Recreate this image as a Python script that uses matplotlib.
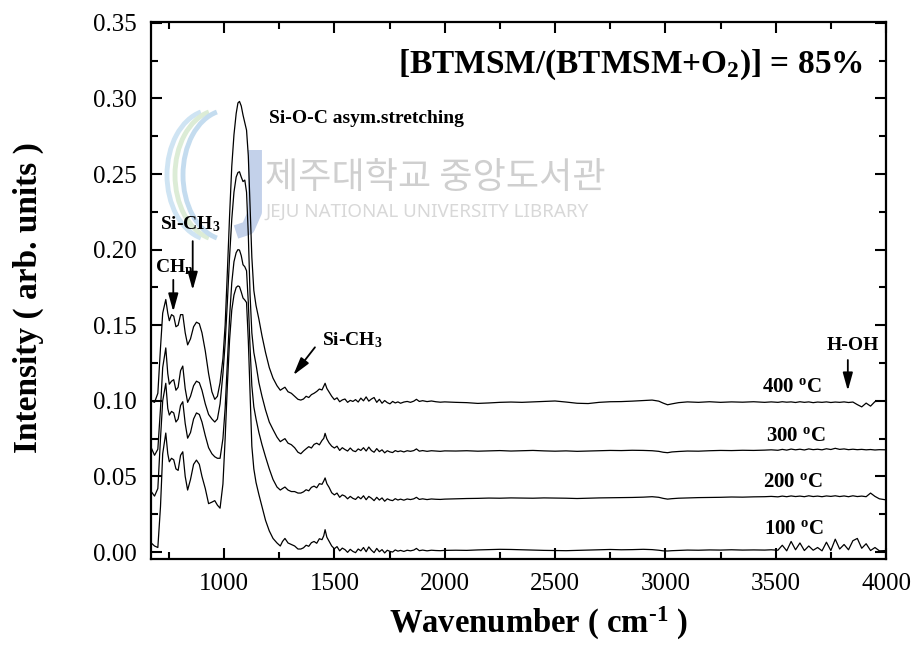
import matplotlib
matplotlib.use('Agg')
import matplotlib.pyplot as plt
from matplotlib.ticker import MultipleLocator, FormatStrFormatter
from matplotlib.patches import Arc

plt.rcParams['font.family'] = ['Liberation Serif', 'DejaVu Serif']
plt.rcParams['mathtext.default'] = 'regular'

# FTIR spectra of films deposited at different temperatures (offset vertically)
wavenumber = [
    670, 685, 700, 712, 722, 736, 745, 752, 762, 772, 782, 792, 803, 813, 824, 835,
    848, 862, 875, 888, 900, 915, 930, 945, 958, 970, 982, 995,
    1005, 1015, 1025, 1035, 1045, 1055, 1063, 1070, 1078, 1086, 1094, 1102, 1110,
    1118, 1126, 1135, 1145, 1158, 1172, 1188, 1205, 1222, 1240, 1255, 1265, 1276,
    1290, 1305, 1320, 1335, 1348,
    1360, 1372, 1384, 1396, 1408, 1420, 1432, 1444, 1452, 1458, 1466, 1476, 1488,
    1500, 1512, 1524, 1536, 1548, 1560, 1572, 1584, 1596, 1608, 1620, 1632, 1644,
    1656, 1668, 1680, 1692, 1704, 1716, 1728, 1740, 1752, 1764, 1776, 1788, 1800,
    1815, 1830, 1845, 1860, 1872, 1885, 1900, 1920, 1940, 1960, 1980, 2000,
    2050, 2100, 2150, 2200, 2250, 2300, 2350, 2400, 2450, 2500, 2550, 2600, 2650,
    2700, 2750, 2800, 2850, 2900, 2940, 2970, 2990, 3010, 3030, 3060, 3100, 3150,
    3200, 3250, 3300, 3350, 3400, 3450, 3480, 3510, 3530, 3550, 3570, 3590, 3610,
    3630, 3650, 3670, 3690, 3710, 3730, 3750, 3770, 3790, 3810, 3830, 3850, 3870,
    3890, 3910, 3930, 3950, 3970, 4000,
]

int_400 = [
    0.100, 0.099, 0.105, 0.135, 0.158, 0.167, 0.158, 0.153, 0.157, 0.156, 0.149, 0.150,
    0.157, 0.157, 0.145, 0.137, 0.141, 0.149, 0.152, 0.151, 0.145, 0.133, 0.118, 0.106,
    0.101, 0.103, 0.112, 0.128,
    0.150, 0.185, 0.222, 0.255, 0.276, 0.290, 0.297, 0.298, 0.295, 0.289, 0.284, 0.279,
    0.262, 0.228, 0.195, 0.173, 0.163, 0.154, 0.143, 0.132, 0.122, 0.115, 0.110, 0.107,
    0.108, 0.109, 0.106, 0.105, 0.103, 0.101, 0.1005,
    0.1012, 0.1030, 0.1022, 0.1041, 0.1050, 0.1062, 0.1078, 0.1072, 0.1098, 0.1116,
    0.1082, 0.1058, 0.1030, 0.1008, 0.1020, 0.0994, 0.1006, 0.1012, 0.0990, 0.1003,
    0.0996, 0.1008, 0.0992, 0.1018, 0.1000, 0.1026, 0.0998, 0.1012, 0.1022, 0.0990,
    0.1010, 0.0984, 0.1002, 0.0988, 0.0980, 0.0996, 0.0986, 0.0993, 0.0984, 0.0992,
    0.0996, 0.0990, 0.0998, 0.1010, 0.0996, 0.1001, 0.0995, 0.0999, 0.0994, 0.0991,
    0.0993,
    0.0990, 0.0988, 0.0983, 0.0986, 0.0990, 0.0992, 0.0990, 0.0993, 0.0996, 0.0999,
    0.0992, 0.0984, 0.0982, 0.0990, 0.0994, 0.0995, 0.0998, 0.1002, 0.1005, 0.0998,
    0.0985, 0.0974, 0.0980, 0.0988, 0.0993, 0.0990, 0.0994, 0.0990, 0.0993, 0.0991,
    0.0994, 0.0990, 0.0993, 0.0990, 0.0994, 0.0991, 0.0993, 0.0989, 0.0994, 0.0990,
    0.0993, 0.0988, 0.0992, 0.0990, 0.0993, 0.0989, 0.0992, 0.0990, 0.0993, 0.0989,
    0.0992, 0.0975, 0.0960, 0.0985, 0.0965, 0.0995, 0.0999, 0.1002,
]

int_300 = [
    0.069, 0.064, 0.068, 0.095, 0.122, 0.135, 0.118, 0.111, 0.113, 0.114, 0.107, 0.109,
    0.120, 0.123, 0.108, 0.099, 0.103, 0.110, 0.113, 0.112, 0.107, 0.098, 0.091, 0.088,
    0.086, 0.088, 0.098, 0.118,
    0.138, 0.165, 0.195, 0.220, 0.238, 0.248, 0.251, 0.2515, 0.248, 0.245, 0.246, 0.238,
    0.210, 0.170, 0.145, 0.132, 0.124, 0.112, 0.103, 0.094, 0.086, 0.081, 0.076, 0.073,
    0.074, 0.075, 0.072, 0.071, 0.069, 0.066, 0.065,
    0.0668, 0.0683, 0.0697, 0.0688, 0.0712, 0.0720, 0.0709, 0.0738, 0.0752, 0.0785,
    0.0748, 0.0722, 0.0700, 0.0688, 0.0700, 0.0672, 0.0690, 0.0678, 0.0668, 0.0688,
    0.0670, 0.0664, 0.0682, 0.0672, 0.0690, 0.0668, 0.0694, 0.0671, 0.0660, 0.0684,
    0.0664, 0.0676, 0.0656, 0.0670, 0.0662, 0.0658, 0.0671, 0.0664, 0.0669, 0.0662,
    0.0670, 0.0666, 0.0671, 0.0682, 0.0667, 0.0671, 0.0666, 0.0670, 0.0668, 0.0666,
    0.0669,
    0.0668, 0.0670, 0.0667, 0.0669, 0.0671, 0.0668, 0.0670, 0.0672, 0.0669, 0.0667,
    0.0669, 0.0666, 0.0668, 0.0670, 0.0672, 0.0671, 0.0673, 0.0672, 0.0670, 0.0666,
    0.0660, 0.0657, 0.0662, 0.0665, 0.0668, 0.0667, 0.0670, 0.0672, 0.0671, 0.0673,
    0.0672, 0.0674, 0.0676, 0.0673, 0.0679, 0.0674, 0.0681, 0.0676, 0.0680, 0.0675,
    0.0682, 0.0677, 0.0680, 0.0676, 0.0683, 0.0678, 0.0686, 0.0679, 0.0682, 0.0677,
    0.0680, 0.0677, 0.0679, 0.0676, 0.0678, 0.0675, 0.0677, 0.0676,
]

int_200 = [
    0.040, 0.037, 0.042, 0.075, 0.100, 0.1116, 0.095, 0.0906, 0.093, 0.092, 0.086, 0.088,
    0.097, 0.0994, 0.085, 0.0753, 0.079, 0.088, 0.092, 0.091, 0.086, 0.077, 0.069, 0.065,
    0.063, 0.062, 0.062, 0.075,
    0.095, 0.125, 0.155, 0.178, 0.192, 0.198, 0.200, 0.1997, 0.196, 0.190, 0.1887, 0.186,
    0.165, 0.135, 0.110, 0.096, 0.088, 0.079, 0.071, 0.063, 0.055, 0.048, 0.043, 0.041,
    0.042, 0.043, 0.041, 0.040, 0.040, 0.039, 0.039,
    0.0398, 0.0412, 0.0405, 0.0428, 0.0436, 0.0425, 0.0452, 0.0448, 0.0470, 0.0490,
    0.0452, 0.0428, 0.0392, 0.0378, 0.0390, 0.0362, 0.0378, 0.0370, 0.0352, 0.0368,
    0.0355, 0.0348, 0.0366, 0.0352, 0.0372, 0.0346, 0.0368, 0.0356, 0.0340, 0.0362,
    0.0344, 0.0358, 0.0336, 0.0352, 0.0344, 0.0340, 0.0353, 0.0344, 0.0350, 0.0343,
    0.0351, 0.0347, 0.0352, 0.0362, 0.0348, 0.0352, 0.0347, 0.0351, 0.0349, 0.0348,
    0.0350,
    0.0352, 0.0354, 0.0355, 0.0357, 0.0356, 0.0358, 0.0357, 0.0356, 0.0358, 0.0357,
    0.0356, 0.0354, 0.0356, 0.0358, 0.0359, 0.0360, 0.0361, 0.0363, 0.0366, 0.0362,
    0.0355, 0.0350, 0.0353, 0.0356, 0.0358, 0.0360, 0.0361, 0.0362, 0.0364, 0.0363,
    0.0365, 0.0366, 0.0368, 0.0365, 0.0370, 0.0366, 0.0371, 0.0367, 0.0370, 0.0366,
    0.0372, 0.0367, 0.0370, 0.0366, 0.0371, 0.0368, 0.0372, 0.0367, 0.0371, 0.0366,
    0.0372, 0.0367, 0.0370, 0.0366, 0.0390, 0.0368, 0.0352, 0.0345,
]

int_100 = [
    0.006, 0.004, 0.003, 0.030, 0.065, 0.0787, 0.065, 0.0597, 0.062, 0.061, 0.055, 0.054,
    0.064, 0.0663, 0.050, 0.041, 0.048, 0.058, 0.0608, 0.058, 0.050, 0.042, 0.032, 0.033,
    0.034, 0.031, 0.029, 0.045,
    0.075, 0.110, 0.140, 0.160, 0.170, 0.175, 0.176, 0.1755, 0.172, 0.168, 0.1667, 0.165,
    0.140, 0.105, 0.070, 0.055, 0.046, 0.038, 0.030, 0.021, 0.014, 0.009, 0.006, 0.004,
    0.007, 0.009, 0.006, 0.005, 0.004, 0.002, 0.002,
    0.0028, 0.0045, 0.0038, 0.0062, 0.0070, 0.0058, 0.0088, 0.0082, 0.0108, 0.0148,
    0.0098, 0.0072, 0.0040, 0.0022, 0.0036, 0.0008, 0.0026, 0.0016, -0.0002, 0.0018,
    0.0004, -0.0004, 0.0020, 0.0008, 0.0030, 0.0002, 0.0034, 0.0012, -0.0004, 0.0024,
    0.0002, 0.0016, -0.0006, 0.0012, 0.0004, 0.0000, 0.0014, 0.0006, 0.0011, 0.0004,
    0.0012, 0.0008, 0.0013, 0.0024, 0.0009, 0.0013, 0.0008, 0.0012, 0.0010, 0.0009,
    0.0011,
    0.0012, 0.0011, 0.0014, 0.0016, 0.0018, 0.0017, 0.0015, 0.0013, 0.0011, 0.0010,
    0.0009, 0.0011, 0.0013, 0.0015, 0.0017, 0.0015, 0.0016, 0.0018, 0.0016, 0.0012,
    0.0008, 0.0007, 0.0009, 0.0011, 0.0013, 0.0012, 0.0014, 0.0013, 0.0015, 0.0013,
    0.0014, 0.0013, 0.0015, 0.0012, 0.0045, 0.0008, 0.0070, 0.0015, 0.0060, 0.0010,
    0.0040, 0.0012, 0.0030, 0.0008, 0.0065, 0.0010, 0.0085, 0.0020, 0.0050, 0.0015,
    0.0075, 0.0090, 0.0025, 0.0055, 0.0010, 0.0030, 0.0008, 0.0010,
]

spectra = [int_100, int_200, int_300, int_400]
temp_labels = [r'100 $^o$C', r'200 $^o$C', r'300 $^o$C', r'400 $^o$C']
label_x = [3584, 3580, 3593, 3575]
label_y = [0.0119, 0.0428, 0.0736, 0.1060]

fig = plt.figure(figsize=(9.17, 6.61), dpi=100)
ax = fig.add_axes([151 / 917, 102 / 661, 735 / 917, 536.5 / 661])

# faint library watermark behind the spectra
px = fig.dpi_scale_trans
for cx, col in [(2.12, '#cfe4f3'), (2.20, '#dcecd6'), (2.28, '#c4dcef')]:
    ax.add_patch(Arc((cx, 4.86), 0.9, 1.3, theta1=100, theta2=260, transform=px,
                     color=col, lw=3.5, zorder=0.3, clip_on=False))
ax.plot([2.55, 2.55, 2.48, 2.36], [5.11, 4.49, 4.33, 4.29], transform=px,
        color='#c3d1ea', lw=10, solid_capstyle='butt', zorder=0.3, clip_on=False)
ax.text(2.65, 4.83, '제주대학교 중앙도서관', transform=px, fontsize=26,
        family=['Noto Sans CJK KR'], color='#cfcfcf', va='center', ha='left', zorder=0.4)
ax.text(2.65, 4.49, 'JEJU NATIONAL UNIVERSITY LIBRARY', transform=px, fontsize=13.5,
        family=['Noto Sans'], color='#d8d8d8', va='center', ha='left', zorder=0.4)

for vals in spectra:
    ax.plot(wavenumber, vals, color='black', lw=0.9, zorder=2)

for txt, x, y in zip(temp_labels, label_x, label_y):
    ax.text(x, y, txt, fontsize=15, fontweight='bold', ha='center', va='baseline')

ax.set_xlim(669, 4000)
ax.set_ylim(-0.0046, 0.3502)
ax.xaxis.set_major_locator(MultipleLocator(500))
ax.xaxis.set_minor_locator(MultipleLocator(250))
ax.yaxis.set_major_locator(MultipleLocator(0.05))
ax.yaxis.set_minor_locator(MultipleLocator(0.025))
ax.yaxis.set_major_formatter(FormatStrFormatter('%.2f'))
ax.tick_params(which='both', direction='in', top=True, right=True, width=1.5,
               labelsize=18, pad=10)
ax.tick_params(which='major', length=8)
ax.tick_params(which='minor', length=5)
for sp in ax.spines.values():
    sp.set_linewidth(1.6)

# peak assignments
ax.text(0.969, 0.906, r'[BTMSM/(BTMSM+O$_2$)] = 85%', transform=ax.transAxes,
        fontsize=24, fontweight='bold', ha='right', va='baseline')
ax.text(1204, 0.287, 'Si-O-C asym.stretching', fontsize=14, fontweight='bold',
        ha='left', va='center')
ax.text(710, 0.2136, r'Si-CH$_3$', fontsize=14, fontweight='bold', ha='left', va='baseline')
ax.text(687, 0.185, r'CH$_n$', fontsize=14, fontweight='bold', ha='left', va='baseline')
ax.text(1443, 0.1369, r'Si-CH$_3$', fontsize=14, fontweight='bold', ha='left', va='baseline')
ax.text(3851, 0.1336, 'H-OH', fontsize=14, fontweight='bold', ha='center', va='baseline')

arrow = dict(arrowstyle='-|>,head_length=0.9,head_width=0.25', color='black', lw=1.3,
             shrinkA=0, shrinkB=0, mutation_scale=12)
ax.annotate('', xy=(858, 0.1733), xytext=(858, 0.2056), arrowprops=arrow)
ax.annotate('', xy=(770, 0.159), xytext=(770, 0.180), arrowprops=arrow)
ax.annotate('', xy=(1314, 0.117), xytext=(1412, 0.1354), arrowprops=arrow)
ax.annotate('', xy=(3827, 0.1067), xytext=(3827, 0.127), arrowprops=arrow)

fig.text(538 / 917, 28 / 661, 'Wavenumber ( cm$^{\u2010 1}$ )', fontsize=23.5,
         fontweight='bold', ha='center', va='baseline')
fig.text(28 / 917, 363 / 661, 'Intensity ( arb. units )', fontsize=24,
         fontweight='bold', rotation=90, ha='center', va='center')

fig.savefig('out.png', dpi=100)
